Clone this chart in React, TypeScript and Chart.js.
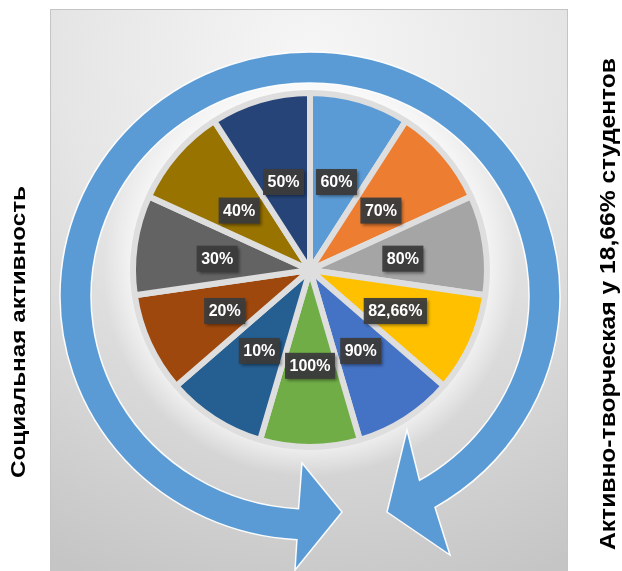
import React, { useEffect, useRef } from 'react';
import { Chart, registerables } from 'chart.js';

Chart.register(...registerables);

// ---- data ----
const sliceLabels = ['60%', '70%', '80%', '82,66%', '90%', '100%', '10%', '20%', '30%', '40%', '50%'];
const sliceShares = [1, 1, 1, 1, 1, 1, 1, 1, 1, 1, 1];
const sliceColors = ['#5B9BD5', '#ED7D31', '#A5A5A5', '#FFC000', '#4472C4', '#70AD47', '#255E91', '#9E480E', '#636363', '#997300', '#264478'];
const leftTitle = 'Социальная активность';
const rightTitle = 'Активно-творческая у 18,66% студентов';

const deg = (d: number) => (d * Math.PI) / 180;

const decorPlugin = {
  id: 'decor',
  beforeDraw(chart: any) {
    const ctx: CanvasRenderingContext2D = chart.ctx;
    const arc = chart.getDatasetMeta(0).data[0];
    if (!arc) return;
    const cx = arc.x;
    const cy = arc.y;
    const R = arc.outerRadius;
    ctx.save();
    // background panel
    const bx = cx - 260, by = cy - 261, bw = 517, bh = 600;
    const g = ctx.createRadialGradient(cx, cy - 210, 0, cx, cy - 210, 560);
    g.addColorStop(0, '#f6f6f6');
    g.addColorStop(0.45, '#e5e5e5');
    g.addColorStop(1, '#c5c5c5');
    ctx.fillStyle = g;
    ctx.fillRect(bx, by, bw, bh);
    ctx.strokeStyle = '#c4c4c4';
    ctx.lineWidth = 1;
    ctx.strokeRect(bx + 0.5, by + 0.5, bw, bh);

    // halo around pie
    const h = ctx.createRadialGradient(cx, cy, R - 5, cx, cy, R + 30);
    h.addColorStop(0, 'rgba(255,255,255,0.7)');
    h.addColorStop(1, 'rgba(255,255,255,0)');
    ctx.fillStyle = h;
    ctx.beginPath();
    ctx.arc(cx, cy, R + 30, 0, Math.PI * 2);
    ctx.fill();

    // circular arrow
    const rcx = cx, rcy = cy + 26;
    const orx = 250, ory = 244, irx = 219, iry = 213;
    const a0 = deg(93), a1 = deg(420);
    ctx.beginPath();
    ctx.ellipse(rcx, rcy, orx, ory, 0, a0, a1, false);
    ctx.lineTo(rcx + 140, rcy + 259);
    ctx.lineTo(rcx + 77, rcy + 216);
    ctx.lineTo(rcx + 97, rcy + 134);
    ctx.lineTo(rcx + irx * Math.cos(a1), rcy + iry * Math.sin(a1));
    ctx.ellipse(rcx, rcy, irx, iry, 0, a1, a0, true);
    ctx.lineTo(rcx - 8, rcy + 167);
    ctx.lineTo(rcx + 32, rcy + 216);
    ctx.lineTo(rcx - 15, rcy + 274);
    ctx.closePath();
    ctx.fillStyle = '#5B9BD5';
    ctx.fill();
    ctx.strokeStyle = 'rgba(255,255,255,0.95)';
    ctx.lineWidth = 1.5;
    ctx.lineJoin = 'miter';
    ctx.stroke();
    ctx.restore();
  },
  afterDraw(chart: any) {
    const ctx: CanvasRenderingContext2D = chart.ctx;
    const drawVertical = (text: string, x: number, y: number, size: number, target: number) => {
      ctx.save();
      ctx.font = `bold ${size}px "Liberation Sans", Arial, sans-serif`;
      const w = ctx.measureText(text).width;
      ctx.translate(x, y);
      ctx.rotate(-Math.PI / 2);
      ctx.scale(target / w, 1);
      ctx.fillStyle = '#000';
      ctx.textAlign = 'center';
      ctx.textBaseline = 'alphabetic';
      ctx.fillText(text, 0, 0);
      ctx.restore();
    };
    drawVertical(leftTitle, 25, 332, 21, 292);
    drawVertical(rightTitle, 615, 304, 22, 492);
  },
};

const labelPlugin = {
  id: 'sliceLabels',
  afterDatasetsDraw(chart: any) {
    const ctx: CanvasRenderingContext2D = chart.ctx;
    const meta = chart.getDatasetMeta(0);
    const labels: string[] = chart.data.labels;
    ctx.save();
    ctx.font = 'bold 16px "Liberation Sans", Arial, sans-serif';
    ctx.textAlign = 'center';
    ctx.textBaseline = 'middle';
    meta.data.forEach((arc: any, i: number) => {
      const mid = (arc.startAngle + arc.endAngle) / 2;
      const r = arc.outerRadius * 0.53;
      const x = arc.x + Math.cos(mid) * r;
      const y = arc.y + Math.sin(mid) * r + 2;
      const text = labels[i];
      const tw = ctx.measureText(text).width;
      const w = tw + 9;
      const hgt = 26;
      ctx.save();
      ctx.shadowColor = 'rgba(0,0,0,0.45)';
      ctx.shadowBlur = 3;
      ctx.shadowOffsetX = 2;
      ctx.shadowOffsetY = 2;
      ctx.fillStyle = 'rgba(60,60,60,0.95)';
      ctx.fillRect(x - w / 2, y - hgt / 2, w, hgt);
      ctx.restore();
      ctx.fillStyle = '#ffffff';
      ctx.fillText(text, x, y + 1);
    });
    ctx.restore();
  },
};

export default function App() {
  const ref = useRef<HTMLCanvasElement>(null);
  useEffect(() => {
    if (!ref.current) return;
    const chart = new Chart(ref.current, {
      type: 'pie',
      data: {
        labels: sliceLabels,
        datasets: [
          {
            data: sliceShares,
            backgroundColor: sliceColors,
            borderColor: '#dedede',
            borderWidth: 6,
            hoverOffset: 0,
          },
        ],
      },
      options: {
        responsive: false,
        animation: false,
        events: [],
        layout: { padding: { left: 130, right: 132, top: 90, bottom: 121 } },
        plugins: { legend: { display: false }, tooltip: { enabled: false }, title: { display: false } },
      },
      plugins: [decorPlugin, labelPlugin],
    } as any);
    return () => chart.destroy();
  }, []);
  return (
    <div style={{ position: 'fixed', left: 0, top: 0, width: 622, height: 571, background: '#ffffff' }}>
      <canvas ref={ref} width={622} height={571} style={{ display: 'block', width: 622, height: 571 }} />
    </div>
  );
}
